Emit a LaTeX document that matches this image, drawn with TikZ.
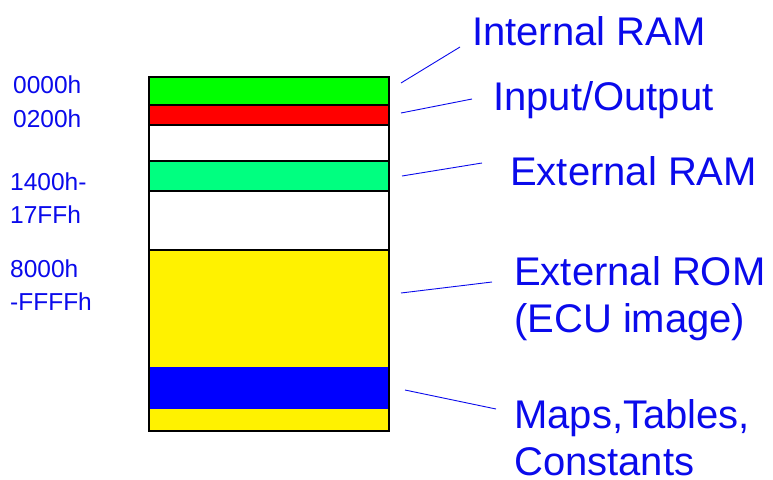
\documentclass[tikz,border=0pt]{standalone}
\usepackage{fontspec}
\setmainfont{Liberation Sans}
\definecolor{labelblue}{RGB}{10,10,235}
\definecolor{ramgreen}{RGB}{0,255,0}
\definecolor{xramgreen}{RGB}{0,255,128}

\begin{document}
\begin{tikzpicture}[x=1pt,y=-1pt,
  band/.style={draw=black,line width=1.2pt},
  addr/.style={anchor=base west,inner sep=0,text=labelblue,align=left,font=\fontsize{24.5}{33}\selectfont},
  area/.style={anchor=base west,inner sep=0,text=labelblue,align=left,font=\fontsize{40}{47}\selectfont},
  leader/.style={labelblue,line width=0.9pt}]
\useasboundingbox (0,0) rectangle (773,479);
% memory map bar
\draw[band,fill=ramgreen] (149,77) rectangle (389,105);
\draw[band,fill=red] (149,105) rectangle (389,125);
\draw[band,fill=white] (149,125) rectangle (389,161);
\draw[band,fill=xramgreen] (149,161) rectangle (389,191);
\draw[band,fill=white] (149,191) rectangle (389,250);
\draw[band,fill=yellow] (149,250) rectangle (389,431);
\fill[blue] (149.6,367) rectangle (388.4,409);
\draw[band] (149,77) rectangle (389,431);
% addresses (base = last line)
\node[addr] (a0000) at (13,93) {0000h};
\node[addr] (a0200) at (13,127) {0200h};
\node[addr] (a1400) at (10,223) {1400h-\\17FFh};
\node[addr] (a8000) at (10,310) {8000h\\-FFFFh};
% area names
\node[area] (iramlab) at (472,45) {Internal RAM};
\node[area] (iolab) at (493,110) {Input/Output};
\node[area] (xramlab) at (510,185) {External RAM};
\node[area] (xromlab) at (514,332) {External ROM\\(ECU image)};
\node[area] (mapslab) at (514,475) {Maps,Tables,\\Constants};
% leaders
\coordinate (iram) at (401,83);
\coordinate (io) at (401,113);
\coordinate (xram) at (402,176);
\coordinate (xrom) at (401,293);
\coordinate (maps) at (405,390);
\draw[leader] (iram) -- ([xshift=-12pt,yshift=-2pt]iramlab.base west);
\draw[leader] (io) -- ([xshift=-21pt,yshift=11pt]iolab.base west);
\draw[leader] (xram) -- ([xshift=-28pt,yshift=22pt]xramlab.base west);
\draw[leader] (xrom) -- ([xshift=-22pt,yshift=50pt]xromlab.base west);
\draw[leader] (maps) -- ([xshift=-18pt,yshift=66pt]mapslab.base west);
\end{tikzpicture}
\end{document}
